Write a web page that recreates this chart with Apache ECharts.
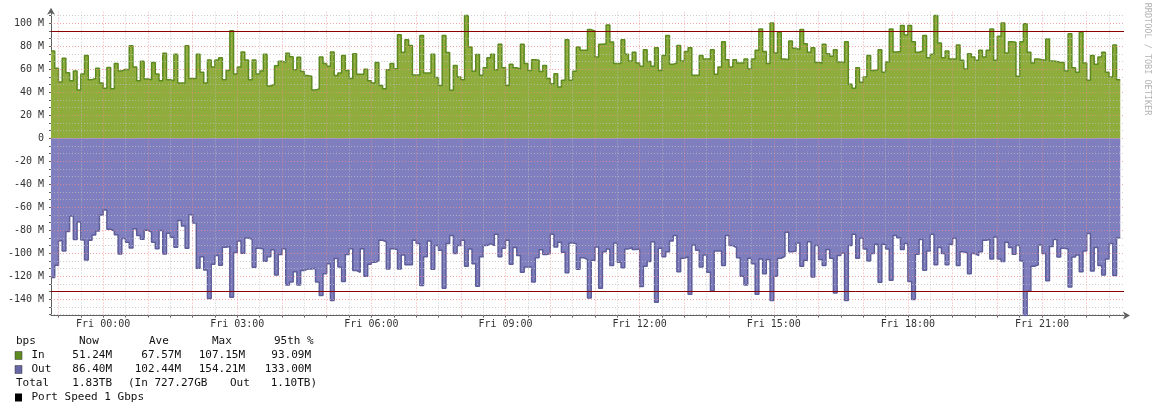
<!DOCTYPE html>
<html><head><meta charset="utf-8">
<script src="https://cdn.jsdelivr.net/npm/echarts@6/dist/echarts.min.js"></script>
<style>html,body{margin:0;padding:0;background:#fff}#c{width:1156px;height:411px}</style>
</head><body><div id="c"></div>
<script>
// time of first sample, minutes relative to Fri 00:00 (Thu 22:50), 5-minute steps
const START_MIN = -70;
const STEP_MIN = 5;
const SPAN_MIN = 1440;

// inbound traffic, Mbps
const inValues = [
76,61,49,69.5,57,50,58.5,42,56,72,51,52,61,48,43.5,61.5,43,65,58.5,60,59.5,80.5,62,50,67,51.6,51,66,56,50,
74,51,50,73,48,48,80.5,52,52,73,57.5,48,68,62,68,70,51,59,93.5,56,62,75,68,51,68,56,58.5,73,45.5,47,
63,67,66,74,71,59.5,70.5,
58,54.5,54,42,43,70.7,65,62.6,75,54.5,56.8,72,59,52,73.6,55.7,55.7,60,50,48,65.8,46,43,59.7,65,60.5,90,74.8,85.8,80.6,55,55,
89.3,56.8,56.8,73,52.8,46,89.3,74.5,41.7,63.2,53.3,51,106.7,79.4,58.3,72.8,54.8,61.4,70,73,59.7,81.7,61.4,45.8,64.3,61.4,60.3,81.7,65,59,68.4,67.8,58,
63.2,51.9,47.5,56.2,44.6,50.4,85.8,50.4,58.3,79.4,76.5,76.5,94.5,93.3,70.7,81.7,82.3,98.6,83.8,65,65,85.8,73,67.2,74.8,65.5,62.6,77.1,66.7,62.6,78.8,
59,72,89.3,64.3,65.5,80.6,67.2,75.4,78.8,54.8,54.8,71.9,69,69,77.1,55.7,62,84,68.4,62,68.4,65.5,65.5,69,60.3,69,76.5,95,75.4,65,100.3,74.2,92.2,
69,68.4,84.6,78.3,77.1,94.5,82.3,74.8,78.8,66,65.5,81.7,73.6,71.3,77.1,66.4,65.8,84,47,43.5,61.4,48.7,53.3,71.9,59,59.7,77.1,57.4,66.4,95,75,75.4,
98,89.9,98,84,74.8,76,89.3,70.1,73,106.7,82.9,70.1,76,69,69,81.2,67.8,60.3,73.6,70.7,67.8,76.5,70.7,76.5,95,67.8,88.7,100.3,74.2,84,83.5,
54,84,99.7,74.8,65.5,69,68.4,67.8,86.4,67.2,66.7,66,66,58.6,91,61.4,57.4,92.2,65.5,50.4,71.9,64.3,70.7,74.8,57.4,53.3,81.2,51
];

// outbound traffic, Mbps (drawn below zero)
const outValues = [
121,110.5,89,98,81,67.5,88,72.8,88.4,105.8,88.7,84,80.6,66.7,62.3,79,80.6,83.8,100.6,87.2,90.4,95.4,78.6,84.6,87.8,80,81.5,90.4,96,80.3,
100.6,82.6,86.1,94.8,71.6,76.2,95.7,66.4,73.6,113,103,114.5,139.4,109.6,102,110.4,94.8,94.2,138.3,99.4,89.3,100,86.7,87.8,112.2,95.7,96.2,107,103,97,
119,101,96,127.5,125,116,127.5,
115,113.6,113.6,113,125,136.8,117.7,109,141,104.6,112,124.6,101,96,115,116.5,96,120,109.6,107.8,106.7,88.7,90,113.6,96,96.8,113.6,101.4,110,110,88.7,91.6,
128,103,89.3,114,93.3,97.4,130.4,91.6,84.6,100.3,93.3,88.7,111.3,96.2,109,128.7,103,93.3,91.6,93.3,83.5,103,95.7,88.7,109.6,95,102,116.5,112,112,125,103.8,97,
101,100.3,83.5,94.5,90.4,99,117,91,91.6,114,103.8,105.5,139,106,94.5,130.4,98.6,96.2,110.7,91,107.8,112.5,96.2,95,96.8,96.2,129,111.3,107.2,89.9,142.6,
95.7,103,98.6,89.3,84.6,116,104.3,103,135.6,92.8,97.4,112,101.4,116.5,132.8,98,98,110.7,84.6,93.3,95,103.8,120,127.5,104.3,109,135.6,105,117.7,105.5,141,120,104.3,
102.6,81.7,98.6,98,91,111.3,106,89.9,120.6,93.3,105.5,110.7,96.8,104.3,134.5,102,99.7,141,93.3,83.5,104.3,87,96.2,106.7,100.3,92.2,125.2,92.2,96.2,123.5,84.6,86.4,
96.8,91.6,124.6,140.3,100.9,88.1,114.8,98,83.5,110,95,100.3,110,92.2,87,110.7,98.6,99.7,117.7,100.3,102,98.6,88.7,88.1,105,85.8,105,107.2,90.4,95,100.9,
93.3,106.7,154.2,132.8,111.3,110,92.8,100.3,124,94,88.1,103.2,95.7,96.2,129.3,103.2,101.4,116,98,82.9,115.4,95,110.7,118.8,105,91.6,119.4,86.4
];

// 95th percentile lines (Mbps): in, out
const p95In = [93.09];
const p95Out = [-133.00];

// axis ticks
const xTickHours = [0, 3, 6, 9, 12, 15, 18, 21];
const xTickLabels = ['Fri 00:00','Fri 03:00','Fri 06:00','Fri 09:00','Fri 12:00','Fri 15:00','Fri 18:00','Fri 21:00'];
const yTickValues = [-140,-120,-100,-80,-60,-40,-20,0,20,40,60,80,100];
const yTickLabels = ['-140 M','-120 M','-100 M','-80 M','-60 M','-40 M','-20 M','0','20 M','40 M','60 M','80 M','100 M'];
const Y_MIN = -154.2, Y_MAX = 110;

// legend text
const legendHeader = ['bps', 'Now', 'Ave', 'Max', '95th %'];
const legendIn = ['In', '51.24M', '67.57M', '107.15M', '93.09M'];
const legendOut = ['Out', '86.40M', '102.44M', '154.21M', '133.00M'];
const legendTotal = ['Total', '1.83TB', '(In 727.27GB', 'Out', '1.10TB)'];
const legendPort = ['Port Speed 1 Gbps'];
const watermark = ['RRDTOOL / TOBI OETIKER'];

// ---- build ----
function stepData(vals, sign) {
  const d = vals.map((v, i) => [START_MIN + i * STEP_MIN, sign * v]);
  d.push([START_MIN + vals.length * STEP_MIN, sign * vals[vals.length - 1]]);
  return d;
}
const inData = stepData(inValues, 1);
const outData = stepData(outValues, -1);

const X_MIN = START_MIN, X_MAX = START_MIN + SPAN_MIN;
const MAJOR = 'rgba(238,140,140,0.75)';
const MINOR = 'rgba(190,190,190,0.75)';

const gridLines = [];
const yMinorVals = [];
for (let k = -160; k <= 100; k += 20) {
  for (const f of [1, 2]) {
    const v = k + f * 20 / 3;
    if (v > Y_MIN && v < Y_MAX) yMinorVals.push(v);
  }
}
yMinorVals.forEach(v => gridLines.push({ yAxis: v, lineStyle: { color: MINOR, type: [1, 2], width: 1 } }));
const xMajorVals = [], xMinorVals = [];
for (let m = -60; m < X_MAX; m += 60) xMajorVals.push(m);
for (let m = -30; m < X_MAX; m += 60) xMinorVals.push(m);
xMinorVals.forEach(v => gridLines.push({ xAxis: v, lineStyle: { color: MINOR, type: [1, 2], width: 1 } }));
yTickValues.forEach(v => gridLines.push({ yAxis: v, lineStyle: { color: MAJOR, type: [1, 2], width: 1 } }));
xMajorVals.forEach(v => gridLines.push({ xAxis: v, lineStyle: { color: MAJOR, type: [1, 2], width: 1 } }));

const yAllTicks = yTickValues.concat(yMinorVals);
const xAllTicks = xMajorVals.concat(xMinorVals);

const FONT = '"DejaVu Sans Mono", monospace';
const LF = '11px ' + FONT;
const rows = [341.5, 355.5, 369.5, 383.5, 397.5];
const colRight = [112, 181, 245, 311];

function t(text, x, y, align) {
  return { type: 'text', x: x, y: y, silent: true,
    style: { text: text, font: LF, fill: '#111', align: align || 'left', verticalAlign: 'middle' } };
}
const graphics = [];
graphics.push(t(legendHeader[0], 16, rows[0]));
graphics.push(t(legendHeader[1], 79, rows[0]));
graphics.push(t(legendHeader[2], 149, rows[0]));
graphics.push(t(legendHeader[3], 212, rows[0]));
graphics.push(t(legendHeader[4], 274, rows[0]));
[[legendIn, '#5f8c22', rows[1]], [legendOut, '#6767a6', rows[2]]].forEach(([arr, col, y]) => {
  graphics.push({ type: 'rect', silent: true, shape: { x: 15, y: y - 4, width: 7, height: 8 },
    style: { fill: col, stroke: '#333', lineWidth: 0.5 } });
  graphics.push(t(arr[0], 31.5, y));
  for (let c = 1; c < 5; c++) graphics.push(t(arr[c], colRight[c - 1], y, 'right'));
});
graphics.push(t(legendTotal[0], 16, rows[3]));
graphics.push(t(legendTotal[1], 112, rows[3], 'right'));
graphics.push(t(legendTotal[2], 128, rows[3]));
graphics.push(t(legendTotal[3], 230, rows[3]));
graphics.push(t(legendTotal[4], 317, rows[3], 'right'));
graphics.push({ type: 'rect', silent: true, shape: { x: 15, y: rows[4] - 4, width: 7, height: 8 }, style: { fill: '#000' } });
graphics.push(t(legendPort[0], 31.5, rows[4]));
graphics.push({ type: 'text', x: 1147, y: 59, rotation: -Math.PI / 2, silent: true,
  style: { text: watermark[0], font: '8.5px ' + FONT, fill: '#b4b4b4', align: 'center', verticalAlign: 'middle' } });

const chart = echarts.init(document.getElementById('c'), null, { renderer: 'canvas' });
chart.setOption({
  animation: false,
  backgroundColor: '#ffffff',
  grid: { left: 51, right: 32, top: 11.8, bottom: 95.4, containLabel: false },
  xAxis: {
    type: 'value', min: X_MIN, max: X_MAX,
    splitLine: { show: false },
    axisLine: { show: true, onZero: false, lineStyle: { color: '#606060', width: 1 },
      symbol: ['none', 'arrow'], symbolSize: [6, 7], symbolOffset: [0, 6] },
    axisTick: { show: true, length: 2, customValues: xAllTicks, lineStyle: { color: '#606060' } },
    axisLabel: { customValues: xTickHours.map(h => h * 60), margin: 4,
      fontFamily: 'DejaVu Sans Mono', fontSize: 10, color: '#333',
      formatter: v => xTickLabels[xTickHours.indexOf(Math.round(v / 60))] }
  },
  yAxis: {
    type: 'value', min: Y_MIN, max: Y_MAX,
    splitLine: { show: false },
    axisLine: { show: true, onZero: false, lineStyle: { color: '#606060', width: 1 },
      symbol: ['none', 'arrow'], symbolSize: [6, 7], symbolOffset: [0, 4] },
    axisTick: { show: true, length: 2, customValues: yAllTicks, lineStyle: { color: '#606060' } },
    axisLabel: { customValues: yTickValues, margin: 7,
      fontFamily: 'DejaVu Sans Mono', fontSize: 10, color: '#333',
      formatter: v => yTickLabels[yTickValues.indexOf(Math.round(v))] }
  },
  series: [
    { type: 'line', name: 'In', data: inData, step: 'end', symbol: 'none', z: 2,
      lineStyle: { color: '#5d8a20', width: 1.5 }, areaStyle: { color: '#8fad3d', opacity: 1 },
      emphasis: { disabled: true }, silent: true },
    { type: 'line', name: 'Out', data: outData, step: 'end', symbol: 'none', z: 2,
      lineStyle: { color: '#5d5d9a', width: 1.5 }, areaStyle: { color: '#7f7fbf', opacity: 1 },
      emphasis: { disabled: true }, silent: true },
    { type: 'line', name: 'grid', data: [], z: 3, silent: true,
      markLine: { silent: true, symbol: ['none', 'none'], label: { show: false }, animation: false,
        emphasis: { disabled: true }, data: gridLines } },
    { type: 'line', name: '95th', data: [], z: 4, silent: true,
      markLine: { silent: true, symbol: ['none', 'none'], label: { show: false }, animation: false,
        emphasis: { disabled: true },
        data: p95In.concat(p95Out).map(v => ({ yAxis: v, lineStyle: { color: '#8a0000', type: 'solid', width: 1 } })) } }
  ],
  graphic: graphics
});
</script>
</body></html>
